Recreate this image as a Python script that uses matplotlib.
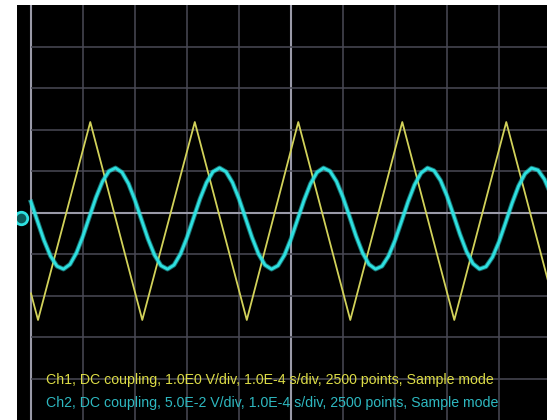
import numpy as np
import matplotlib.pyplot as plt

# Scope capture, values in screen divisions (1.0E-4 s/div)
# Ch1: triangle wave, vertices (1.0E0 V/div)
ch1_t = [0.0, 0.135, 1.14, 2.14, 3.15, 4.15, 5.14, 6.14, 7.14, 8.14, 9.14, 10.0]
ch1_v = [-1.95, -2.59, 2.18, -2.59, 2.18, -2.59, 2.18, -2.59, 2.18, -2.59, 2.18, -1.92]

# Ch2: sine-like wave sampled every 0.125 div (5.0E-2 V/div)
ch2_step = 0.125
ch2_v = [0.257, -0.212, -0.671, -1.050, -1.294, -1.364, -1.250, -0.970,
         -0.565, -0.097, 0.363, 0.748, 0.997, 1.074, 0.968, 0.694,
         0.293, -0.174, -0.636, -1.024, -1.280, -1.365, -1.266, -0.998,
         -0.601, -0.136, 0.328, 0.721, 0.983, 1.075, 0.983, 0.721,
         0.329, -0.135, -0.600, -0.998, -1.265, -1.365, -1.280, -1.025,
         -0.637, -0.174, 0.292, 0.693, 0.968, 1.074, 0.997, 0.748,
         0.364, -0.096, -0.565, -0.969, -1.250, -1.364, -1.294, -1.051,
         -0.672, -0.213, 0.256, 0.665, 0.951, 1.073, 1.010, 0.774,
         0.399, -0.058, -0.528, -0.940, -1.233, -1.361, -1.306, -1.076,
         -0.706, -0.251, 0.220, 0.635, 0.934, 1.070, 1.022, 0.799, 0.433]
ch2_t = np.arange(len(ch2_v)) * ch2_step

ch2_marker = (-0.19, -0.13)

labels = ['Ch1, DC coupling, 1.0E0 V/div, 1.0E-4 s/div, 2500 points, Sample mode',
          'Ch2, DC coupling, 5.0E-2 V/div, 1.0E-4 s/div, 2500 points, Sample mode']

yellow = '#d2d25a'
cyan = '#2ee0e0'

fig = plt.figure(figsize=(5.47, 4.20), dpi=100, facecolor='white')
ax = fig.add_axes([17 / 547, 0, 530 / 547, 415 / 420])
ax.set_facecolor('black')
ax.set_xlim(-14 / 52, 516 / 52)
ax.set_ylim(-5, 5)
ax.set_xticks([])
ax.set_yticks([])
for s in ax.spines.values():
    s.set_visible(False)

# Graticule
for i in range(0, 11):
    bright = i in (0, 5)
    ax.axvline(i, color='#9a9aa8' if bright else '#4a4a55',
               lw=1.5 if bright else 1.1, zorder=1)
for j in range(-4, 5):
    bright = j == 0
    ax.hlines(j, 0, 10, color='#9a9aa8' if bright else '#4a4a55',
              lw=1.5 if bright else 1.1, zorder=1)

# Traces
ax.plot(ch1_t, ch1_v, color=yellow, lw=1.3, zorder=3)
ax.plot(ch2_t, ch2_v, color=cyan, lw=3.4, alpha=0.5, zorder=4)
ax.plot(ch2_t, ch2_v, color=cyan, lw=2.0, zorder=5)

# Ch2 ground marker on the left edge
ax.plot(*ch2_marker, 'o', ms=9, mfc='#0a5a5a', mec=cyan, mew=2, zorder=6)

# Channel settings text
ax.text(0.29, -4.04, labels[0], color='#dcdc46', fontsize=10.2,
        family='Liberation Sans', va='center', zorder=7)
ax.text(0.29, -4.60, labels[1], color='#2eb8c0', fontsize=10.2,
        family='Liberation Sans', va='center', zorder=7)

plt.savefig('out.png', dpi=100, facecolor='white')
